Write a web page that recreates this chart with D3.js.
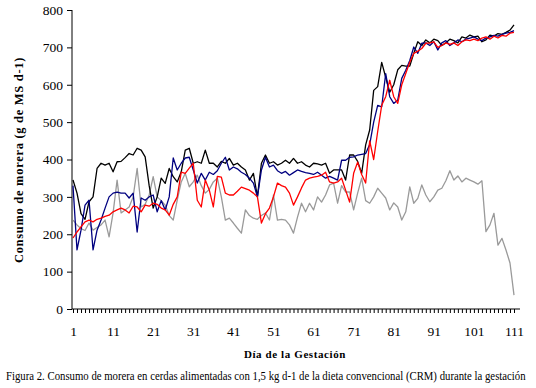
<!DOCTYPE html>
<html>
<head>
<meta charset="utf-8">
<script src="https://cdnjs.cloudflare.com/ajax/libs/d3/7.8.5/d3.min.js"></script>
<style>
  body { margin: 0; background: #fff; }
  svg text { font-family: "Liberation Serif", "DejaVu Serif", serif; }
</style>
</head>
<body>
<div id="chart"></div>
<script>
// days of gestation 1..111
const days = d3.range(1, 112);
const xLabels = ["1", "11", "21", "31", "41", "51", "61", "71", "81", "91", "101", "111"];
const yTicks = [0, 100, 200, 300, 400, 500, 600, 700, 800];

// consumo de morera (g MS/d)
const serieNegra = [
  345, 310, 255, 240, 287, 300, 376, 390, 385, 390, 367, 394, 395, 405, 416, 412, 430, 425, 407, 330,
  270, 300, 350, 336, 376, 354, 340, 367, 425, 430, 390, 394, 390, 425, 390, 390, 380, 395, 390, 403,
  385, 390, 380, 372, 345, 363, 300, 390, 412, 390, 394, 385, 390, 398, 390, 403, 390, 394, 385, 380,
  390, 388, 385, 390, 363, 372, 372, 372, 345, 412, 412, 395, 363, 439, 479, 585, 595, 660, 620, 580,
  600, 640, 652, 650, 650, 684, 715, 705, 720, 712, 722, 718, 705, 712, 722, 718, 712, 728, 725, 733,
  728, 730, 715, 720, 733, 730, 737, 735, 740, 746, 760
];
const serieAzul = [
  330, 158, 211, 278, 291, 158, 211, 238, 270, 300, 310, 313, 310, 310, 297, 310, 206, 297, 291, 300,
  305, 260, 290, 265, 300, 404, 372, 390, 404, 406, 372, 337, 363, 345, 366, 360, 370, 390, 406, 372,
  380, 375, 366, 360, 350, 337, 300, 372, 406, 380, 385, 370, 363, 368, 358, 365, 372, 368, 365, 363,
  360, 366, 358, 350, 355, 350, 345, 398, 398, 406, 407, 412, 414, 416, 440, 500, 545, 541, 630, 568,
  550, 559, 617, 639, 665, 701, 684, 711, 712, 705, 715, 693, 712, 718, 705, 712, 720, 715, 722, 725,
  728, 722, 718, 725, 728, 732, 730, 735, 738, 740, 745
];
const serieRoja = [
  190, 206, 220, 233, 238, 233, 240, 243, 248, 251, 260, 265, 270, 265, 257, 275, 273, 260, 278, 275,
  283, 280, 270, 265, 251, 280, 300, 366, 363, 377, 390, 291, 273, 345, 318, 273, 355, 353, 310, 305,
  305, 315, 326, 322, 318, 310, 300, 230, 255, 270, 300, 337, 330, 326, 310, 278, 300, 324, 345, 350,
  353, 355, 358, 366, 340, 337, 340, 350, 318, 286, 363, 393, 360, 337, 450, 400, 475, 545, 568, 612,
  568, 550, 600, 630, 660, 684, 690, 697, 711, 712, 715, 700, 705, 712, 708, 712, 705, 715, 720, 718,
  722, 718, 725, 728, 722, 730, 725, 732, 730, 738, 740
];
const serieGris = [
  238, 225, 215, 210, 230, 211, 218, 225, 238, 193, 257, 345, 257, 265, 273, 300, 376, 273, 280, 305,
  354, 300, 290, 278, 250, 238, 291, 340, 363, 327, 340, 358, 330, 310, 320, 340, 350, 300, 238, 243,
  230, 216, 203, 265, 250, 243, 240, 250, 257, 238, 305, 238, 240, 238, 225, 203, 246, 283, 260, 283,
  265, 300, 286, 305, 332, 337, 283, 330, 313, 313, 265, 310, 350, 290, 283, 300, 323, 310, 297, 265,
  284, 273, 238, 260, 327, 283, 296, 332, 305, 287, 300, 318, 323, 343, 370, 345, 356, 340, 350, 345,
  340, 334, 343, 207, 225, 256, 171, 189, 158, 123, 37
];

const series = [
  { name: "gris", values: serieGris, color: "#9a9a9a" },
  { name: "negra", values: serieNegra, color: "#000000" },
  { name: "azul", values: serieAzul, color: "#000080" },
  { name: "roja", values: serieRoja, color: "#ff0000" }
];

const width = 536, height = 388;
const serif = "'Liberation Serif', 'DejaVu Serif', serif";
const svg = d3.select("#chart").append("svg")
  .attr("width", width)
  .attr("height", height)
  .style("display", "block");

const x = d3.scalePoint().domain(days).range([73, 514]);
const y = d3.scaleLinear().domain([0, 800]).range([309, 10]);

// y axis
const yAxis = svg.append("g")
  .attr("transform", "translate(72,0)")
  .call(d3.axisLeft(y).tickValues(yTicks).tickSize(5).tickSizeOuter(0).tickPadding(4))
  .attr("font-family", serif)
  .attr("font-size", 13.5);
yAxis.select(".domain").remove();
yAxis.selectAll("text").attr("fill", "#000");
yAxis.append("line")
  .attr("x1", 0).attr("x2", 0)
  .attr("y1", y(800)).attr("y2", y(0))
  .attr("stroke", "#000");

// x axis, a tick per day, label every 10 days
const xAxis = svg.append("g")
  .attr("transform", `translate(0,${y(0)})`)
  .call(d3.axisBottom(x)
    .tickValues(days)
    .tickSize(4)
    .tickPadding(13)
    .tickFormat(d => xLabels.includes(String(d)) ? String(d) : ""))
  .attr("font-family", serif)
  .attr("font-size", 13.5);
xAxis.select(".domain").remove();
xAxis.selectAll("text").attr("fill", "#000");
xAxis.append("line")
  .attr("x1", 72).attr("x2", 520)
  .attr("y1", 0).attr("y2", 0)
  .attr("stroke", "#000");

// lines
const line = d3.line()
  .x((d, i) => x(days[i]))
  .y(d => y(d));

svg.append("g").selectAll("path")
  .data(series)
  .enter()
  .append("path")
  .attr("d", d => line(d.values))
  .attr("fill", "none")
  .attr("stroke", d => d.color)
  .attr("stroke-width", 1.3)
  .attr("stroke-linejoin", "round");

// titles
svg.append("text")
  .attr("x", 295)
  .attr("y", 358)
  .attr("text-anchor", "middle")
  .style("font-size", "11px")
  .style("font-weight", "bold")
  .style("letter-spacing", "0.6px")
  .text("Día de la Gestación");

svg.append("text")
  .attr("transform", "translate(23,160) rotate(-90)")
  .attr("text-anchor", "middle")
  .style("font-size", "12.5px")
  .style("font-weight", "bold")
  .style("letter-spacing", "0.7px")
  .text("Consumo de morera (g de MS d-1)");

// caption: squeeze horizontally to fit the page width
const caption = svg.append("text")
  .style("font-size", "11.5px")
  .text("Figura 2. Consumo de morera en cerdas alimentadas con 1,5 kg d-1 de la dieta convencional (CRM) durante la gestación");
const capW = caption.node().getComputedTextLength();
const capScale = Math.min(1, 520 / capW);
caption.attr("transform", `translate(6,380) scale(${capScale},1)`);
</script>
</body>
</html>
